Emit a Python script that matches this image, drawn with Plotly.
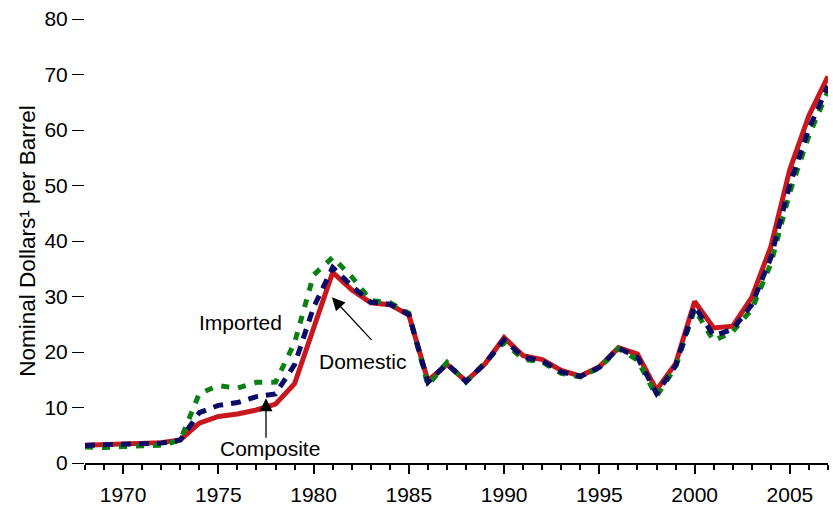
import plotly.graph_objects as go

years = list(range(1968, 2008))
domestic = [3.21, 3.37, 3.46, 3.68, 3.67, 4.17, 7.18, 8.39, 8.84, 9.55,
            10.61, 14.27, 24.23, 34.33, 31.22, 28.87, 28.53, 26.66, 14.82, 17.76,
            14.74, 17.87, 22.59, 19.33, 18.63, 16.67, 15.67, 17.33, 20.77, 19.61,
            13.18, 17.90, 29.11, 24.33, 24.65, 29.82, 38.97, 52.94, 62.62, 69.65]
imported = [2.90, 2.80, 2.96, 3.17, 3.22, 4.08, 12.52, 13.93, 13.48, 14.53,
            14.57, 21.67, 33.89, 37.05, 33.55, 29.30, 28.88, 26.99, 14.00, 18.13,
            14.56, 18.08, 21.76, 18.70, 18.20, 16.14, 15.51, 17.14, 20.64, 18.53,
            12.04, 17.26, 27.70, 22.00, 23.71, 27.71, 35.90, 48.86, 59.02, 67.04]
composite = [3.17, 3.29, 3.40, 3.60, 3.58, 4.15, 9.07, 10.38, 10.89, 11.96,
             12.46, 17.72, 28.07, 35.24, 31.87, 28.99, 28.63, 26.75, 14.55, 17.90,
             14.67, 17.97, 22.22, 19.06, 18.43, 16.41, 15.59, 17.23, 20.71, 19.04,
             12.52, 17.51, 28.26, 22.95, 24.10, 28.53, 36.98, 50.24, 60.24, 67.94]
x_ticks = [1970, 1975, 1980, 1985, 1990, 1995, 2000, 2005]
y_ticks = [0, 10, 20, 30, 40, 50, 60, 70, 80]

font = "Liberation Sans, Arial, sans-serif"
tfont = dict(size=21, color="black", family=font)

fig = go.Figure()
fig.add_trace(go.Scatter(x=years, y=domestic, mode="lines", name="Domestic",
                         line=dict(color="#C8171D", width=5)))
fig.add_trace(go.Scatter(x=years, y=imported, mode="lines", name="Imported",
                         line=dict(color="#0A7F12", width=5, dash="8px,9px")))
fig.add_trace(go.Scatter(x=years, y=composite, mode="lines", name="Composite",
                         line=dict(color="#0B0B66", width=5, dash="10px,8px")))

# text labels
fig.add_annotation(x=1982.59, y=18.37, text="Domestic", showarrow=False, font=tfont)
fig.add_annotation(x=1977.73, y=2.65, text="Composite", showarrow=False, font=tfont)
fig.add_annotation(x=1976.18, y=25.25, text="Imported", showarrow=False, font=tfont)
# arrows
fig.add_annotation(x=1980.96, y=29.85, text="", showarrow=True, arrowhead=2,
                   arrowsize=2, arrowwidth=1.3, arrowcolor="black", ax=41, ay=44)
fig.add_annotation(x=1977.5, y=11.66, text="", showarrow=True, arrowhead=2,
                   arrowsize=2, arrowwidth=1.3, arrowcolor="black", ax=0, ay=41)

fig.update_layout(
    width=833, height=511,
    margin=dict(l=85, r=5, t=19, b=39),
    plot_bgcolor="white", paper_bgcolor="white",
    showlegend=False,
    font=dict(family=font, size=21, color="black"),
    xaxis=dict(range=[1968, 2007], tickvals=x_ticks, ticks="outside",
               ticklen=9, tickwidth=2, tickcolor="black",
               showline=True, linecolor="black", linewidth=2,
               showgrid=False, zeroline=False,
               tickfont=tfont, ticklabeloverflow="allow", ticklabelstandoff=3,
               minor=dict(dtick=1, tick0=1968, ticks="outside", ticklen=5,
                          tickwidth=2, tickcolor="black", showgrid=False)),
    yaxis=dict(range=[0, 80], tickvals=y_ticks, ticks="outside",
               ticklen=12, tickwidth=1, tickcolor="black",
               showline=False, showgrid=False, zeroline=False,
               tickfont=tfont, ticklabeloverflow="allow",
               title=dict(text="Nominal Dollars¹ per Barrel",
                          font=dict(size=22.5, family=font, color="black"), standoff=2)),
)

fig.write_html("out.html", post_script="document.body.style.margin='0';",
               config={"displayModeBar": False})
